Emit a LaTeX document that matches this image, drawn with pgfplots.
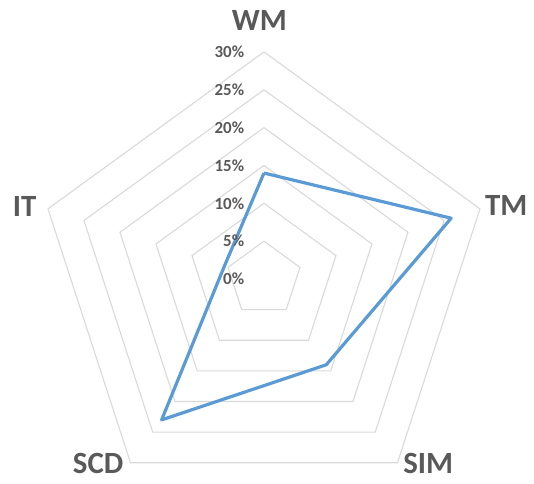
\documentclass[border=0pt]{standalone}
\usepackage{fontspec}
\setmainfont{Carlito}
\usepackage{pgfplots}
\pgfplotsset{compat=1.18}
\definecolor{excelblue}{HTML}{5B9BD5}
\definecolor{gridgray}{HTML}{D9D9D9}
\definecolor{labelgray}{HTML}{595959}
\tikzset{
  ring/.style={gridgray, line width=1.1bp},
  ticklab/.style={anchor=east, inner sep=0pt, text=labelgray, font=\fontsize{17}{17}\selectfont\bfseries},
  catlab/.style={text=labelgray, font=\fontsize{31}{31}\selectfont\bfseries, inner sep=0pt},
}
\begin{document}
\begin{tikzpicture}
\begin{axis}[
  x=7.57bp, y=7.57bp,
  xmin=-34.87, xmax=35.67, ymin=-26.95, ymax=36.86,
  hide axis, clip=false,
]
% grid rings (angle, radius in %)
\addplot[ring, no markers, data cs=polar] coordinates {(90,5) (18,5) (-54,5) (-126,5) (162,5) (90,5)};
\addplot[ring, no markers, data cs=polar] coordinates {(90,10) (18,10) (-54,10) (-126,10) (162,10) (90,10)};
\addplot[ring, no markers, data cs=polar] coordinates {(90,15) (18,15) (-54,15) (-126,15) (162,15) (90,15)};
\addplot[ring, no markers, data cs=polar] coordinates {(90,20) (18,20) (-54,20) (-126,20) (162,20) (90,20)};
\addplot[ring, no markers, data cs=polar] coordinates {(90,25) (18,25) (-54,25) (-126,25) (162,25) (90,25)};
\addplot[ring, no markers, data cs=polar] coordinates {(90,30) (18,30) (-54,30) (-126,30) (162,30) (90,30)};
% data: WM, TM, SIM, SCD, IT
\addplot[excelblue, line width=3.2bp, no markers, line join=round, data cs=polar]
  coordinates {(90,14) (18,26) (-54,14) (-126,23) (162,5.5) (90,14)};
% tick labels
\node[ticklab] at (axis cs:-2.6,0) {0\%};
\node[ticklab] at (axis cs:-2.6,5) {5\%};
\node[ticklab] at (axis cs:-2.6,10) {10\%};
\node[ticklab] at (axis cs:-2.6,15) {15\%};
\node[ticklab] at (axis cs:-2.6,20) {20\%};
\node[ticklab] at (axis cs:-2.6,25) {25\%};
\node[ticklab] at (axis cs:-2.6,30) {30\%};
% category labels
\node[catlab] at (axis cs:-0.6,34.2) {WM};
\node[catlab] at (axis cs:32.0,9.78) {TM};
\node[catlab] at (axis cs:21.7,-24.4) {SIM};
\node[catlab] at (axis cs:-21.9,-24.4) {SCD};
\node[catlab] at (axis cs:-31.6,9.64) {IT};
\end{axis}
\pgfresetboundingbox
\useasboundingbox (current axis.south west) rectangle (current axis.north east);
\end{tikzpicture}
\end{document}
